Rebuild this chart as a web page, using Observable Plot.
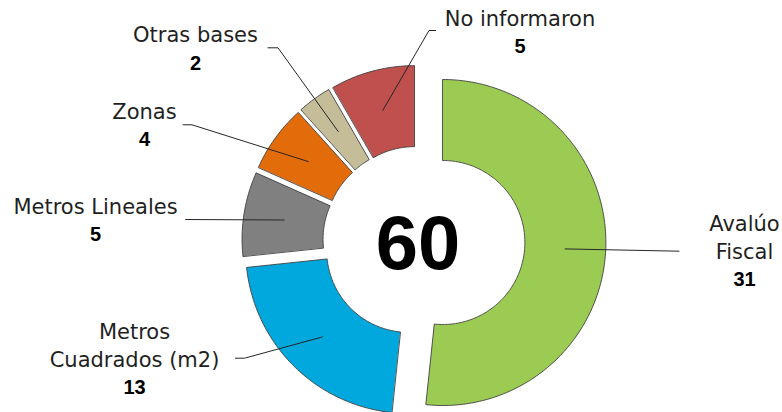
<!DOCTYPE html>
<html>
<head>
<meta charset="utf-8">
<script src="https://cdn.jsdelivr.net/npm/d3@7"></script>
<script src="https://cdn.jsdelivr.net/npm/@observablehq/plot@0.6"></script>
<style>
  html, body { margin: 0; padding: 0; background: #ffffff; }
  #chart svg { display: block; }
</style>
</head>
<body>
<div id="chart"></div>
<script>
// ---- Data ----
const categories = ["Avalúo Fiscal", "Metros Cuadrados (m2)", "Metros Lineales", "Zonas", "Otras bases", "No informaron"];
const labelLines = [["Avalúo", "Fiscal"], ["Metros", "Cuadrados (m2)"], ["Metros Lineales"], ["Zonas"], ["Otras bases"], ["No informaron"]];
const values = [31, 13, 5, 4, 2, 5];

// ---- Style / layout (not data) ----
const colors = ["#9BCB52", "#00A8DE", "#808080", "#E36C0A", "#C4BD97", "#C0504D"];
const W = 782, H = 412;
const center = {x: 417.4, y: 240.7};
const rOuter = 163, rInner = 82;
const explode = [25, 13, 13, 13, 13, 13];
// label block anchor (center x, first line center y)
const labelPos = [[744, 224], [134, 331.7], [95, 206.7], [144, 111.7], [195, 35], [519.5, 18.3]];
// leader start and elbow points next to the labels
const leaderStart = [[678.5, 250.7], [235, 357.7], [185, 219], [182.5, 124.3], [267.5, 47.3], [435, 30]];
const leaderElbow = [[678.5, 250.7], [244, 357.7], [185, 219], [191.5, 124.3], [277.5, 47.3], [428.5, 30]];
const lineGap = 27.6;

// ---- Geometry derived from values ----
const total = d3.sum(values);
let acc = 0;
const slices = values.map((v, i) => {
  const a0 = acc / total * 2 * Math.PI;
  acc += v;
  const a1 = acc / total * 2 * Math.PI;
  const mid = (a0 + a1) / 2;
  const ox = center.x + explode[i] * Math.sin(mid);
  const oy = center.y - explode[i] * Math.cos(mid);
  const pts = [];
  const n = Math.max(8, Math.ceil((a1 - a0) / (Math.PI / 180)));
  for (let k = 0; k <= n; k++) {
    const a = a0 + (a1 - a0) * k / n;
    pts.push({x: ox + rOuter * Math.sin(a), y: oy - rOuter * Math.cos(a)});
  }
  for (let k = n; k >= 0; k--) {
    const a = a0 + (a1 - a0) * k / n;
    pts.push({x: ox + rInner * Math.sin(a), y: oy - rInner * Math.cos(a)});
  }
  const rm = (rOuter + rInner) / 2;
  const anchor = {x: ox + rm * Math.sin(mid), y: oy - rm * Math.cos(mid)};
  return {i, name: categories[i], value: v, pts, anchor};
});

const leaders = [];
slices.forEach(s => {
  leaders.push({k: s.i, x: leaderStart[s.i][0], y: leaderStart[s.i][1]});
  leaders.push({k: s.i, x: leaderElbow[s.i][0], y: leaderElbow[s.i][1]});
  leaders.push({k: s.i, x: s.anchor.x, y: s.anchor.y});
});

const nameTexts = [];
const numTexts = [];
slices.forEach(s => {
  const [lx, ly] = labelPos[s.i];
  labelLines[s.i].forEach((t, j) => nameTexts.push({x: lx, y: ly + j * lineGap, t}));
  numTexts.push({x: lx, y: ly + labelLines[s.i].length * lineGap, t: String(s.value)});
});

const marks = [];
slices.forEach(s => {
  marks.push(Plot.line(s.pts, {x: "x", y: "y", curve: "linear-closed", fill: colors[s.i], stroke: "#3f3f3f", strokeWidth: 0.9}));
});
marks.push(Plot.line(leaders, {x: "x", y: "y", z: "k", stroke: "#262626", strokeWidth: 1}));
marks.push(Plot.text(nameTexts, {x: "x", y: "y", text: "t", fontFamily: "DejaVu Sans", fontSize: 21, fill: "#1f1f1f", textAnchor: "middle"}));
marks.push(Plot.text(numTexts, {x: "x", y: "y", text: "t", fontFamily: "Liberation Sans", fontWeight: "bold", fontSize: 20, fill: "#000000", textAnchor: "middle"}));
marks.push(Plot.text([{x: center.x, y: center.y + 3, t: String(total)}], {x: "x", y: "y", text: "t", fontFamily: "Liberation Sans", fontWeight: "bold", fontSize: 76, fill: "#000000", textAnchor: "middle"}));

const chart = Plot.plot({
  width: W,
  height: H,
  margin: 0,
  x: {domain: [0, W], range: [0, W], axis: null},
  y: {domain: [0, H], range: [0, H], axis: null},
  style: {background: "#ffffff", overflow: "visible"},
  marks
});
document.getElementById("chart").appendChild(chart);
</script>
</body>
</html>
